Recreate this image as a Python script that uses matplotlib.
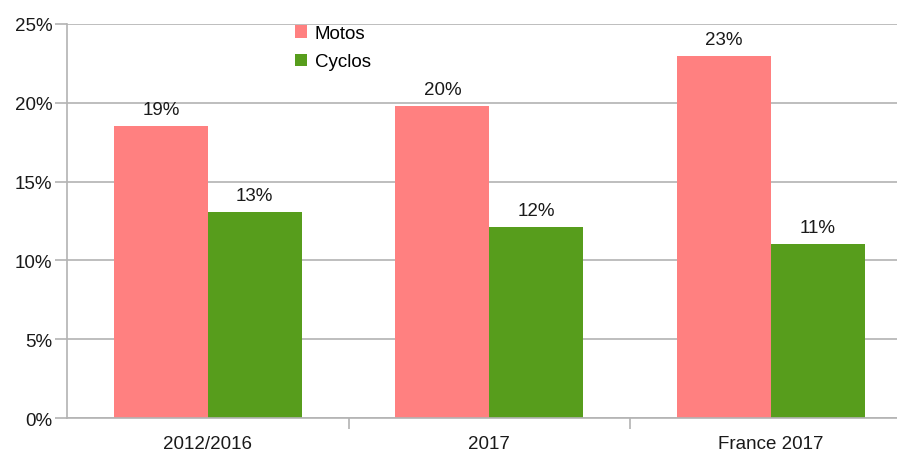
import matplotlib
matplotlib.use('Agg')
import matplotlib.pyplot as plt
import numpy as np

# chart data
categories = ['2012/2016', '2017', 'France 2017']
motos = [18.5, 19.8, 23.0]
cyclos = [13.05, 12.1, 11.05]
motos_labels = ['19%', '20%', '23%']
cyclos_labels = ['13%', '12%', '11%']
y_ticks = [0, 5, 10, 15, 20, 25]

plt.rcParams['font.family'] = ['Liberation Sans', 'DejaVu Sans']
FS = 13.5
TXT = '#1a1a1a'

W, H = 897, 452
fig = plt.figure(figsize=(W / 100, H / 100), dpi=100)
left, right, top, bottom = 67, 911.5, 25, 419
ax = fig.add_axes([left / W, 1 - bottom / H, (right - left) / W, (bottom - top) / H])

x = np.arange(len(categories))
bw = 1 / 3
b1 = ax.bar(x - bw / 2, motos, bw, color='#ff8080', label='Motos', zorder=2)
b2 = ax.bar(x + bw / 2, cyclos, bw, color='#579d1c', label='Cyclos', zorder=2)

for bars, labels in ((b1, motos_labels), (b2, cyclos_labels)):
    for rect, lab in zip(bars, labels):
        ax.annotate(lab, (rect.get_x() + rect.get_width() / 2, rect.get_height()),
                    xytext=(0, 12), textcoords='offset pixels', ha='center', va='baseline',
                    fontsize=FS, color=TXT)

ax.set_xlim(-0.5, 2.5)
ax.set_ylim(0, 25)
ax.set_yticks(y_ticks)
ax.set_yticklabels(['{}%'.format(v) for v in y_ticks])
ax.yaxis.grid(True, color='#b3b3b3', linewidth=1.2, zorder=0)
ax.set_axisbelow(True)

ax.set_xticks(x)
ax.set_xticklabels(categories)
ax.set_xticks([0.5, 1.5], minor=True)
ax.tick_params(axis='x', which='major', length=0, pad=12, labelsize=FS, labelcolor=TXT)
ax.tick_params(axis='x', which='minor', length=8, width=1.2, color='#b3b3b3')
ax.tick_params(axis='y', length=9, width=1.2, color='#b3b3b3', labelsize=FS, labelcolor=TXT, pad=1.5)

for s in ['top', 'right']:
    ax.spines[s].set_visible(False)
for s in ['left', 'bottom']:
    ax.spines[s].set_color('#b3b3b3')
    ax.spines[s].set_linewidth(1.2)

leg = ax.legend(loc='upper left', bbox_to_anchor=((278 - left) / (right - left), 1.04),
                frameon=False, fontsize=FS, handlelength=0.65, handleheight=0.65,
                handletextpad=0.4, labelspacing=0.6)

fig.savefig('out.png', dpi=100)
